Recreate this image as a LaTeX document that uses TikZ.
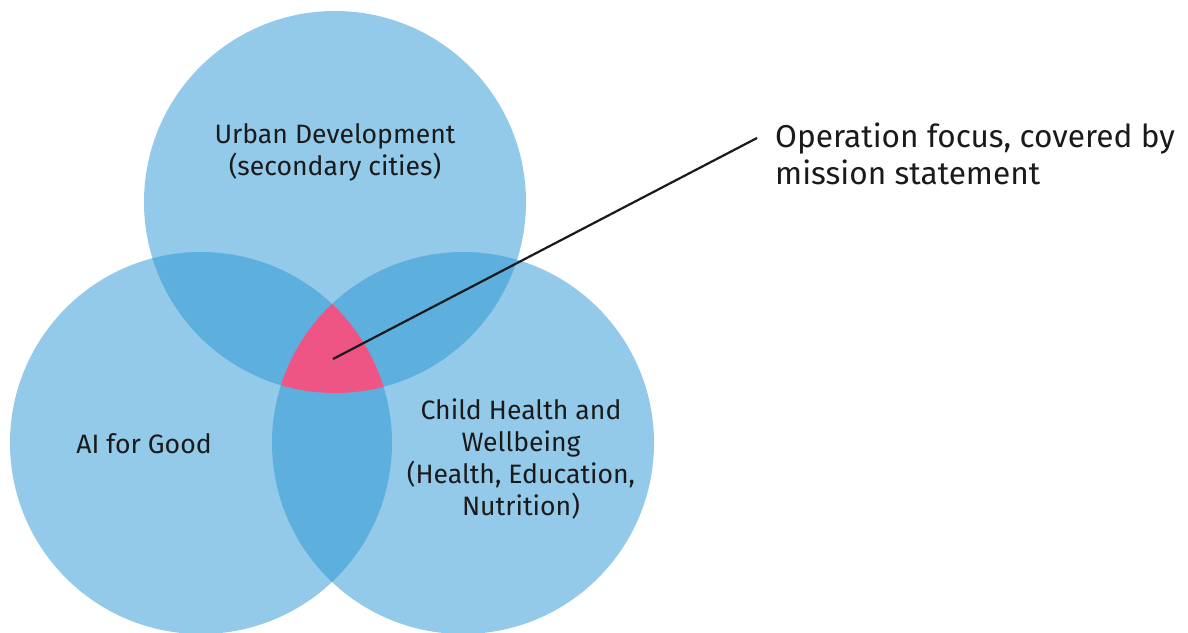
\documentclass[tikz,border=0pt]{standalone}
\usepackage{fontspec}
\setmainfont{Fira Sans}
\definecolor{lightblue}{HTML}{94CAE9}
\definecolor{midblue}{HTML}{5DAFDD}
\definecolor{focuspink}{HTML}{EF5584}
\definecolor{ink}{HTML}{1A1A1A}
\tikzset{
  label/.style={text=ink, inner sep=0pt, align=center, font=\fontsize{26.6}{32}\selectfont},
  note/.style={text=ink, inner sep=0pt, align=left, font=\fontsize{31.6}{37}\selectfont}
}
\begin{document}
\begin{tikzpicture}[x=1pt,y=-1pt]
\useasboundingbox (0,0) rectangle (1188,632);
\def\urbancirc{(335,202) circle [radius=191pt]}
\def\aicirc{(201,443) circle [radius=191pt]}
\def\childcirc{(463,443) circle [radius=191pt]}
% the three areas
\fill [lightblue] \urbancirc; \fill [lightblue] \aicirc; \fill [lightblue] \childcirc;
\begin{scope} \clip \urbancirc; \fill [midblue] \aicirc; \fill [midblue] \childcirc; \end{scope}
\begin{scope} \clip \aicirc; \fill [midblue] \childcirc; \clip \urbancirc; \fill [focuspink] \childcirc; \end{scope}
% labels
\node [label] (urban) at (335,152) {Urban Development\\(secondary cities)};
\node [label] (ai) at (144,444) {AI for Good};
\node [label] (child) at (521,459) {Child Health and\\Wellbeing\\(Health, Education,\\Nutrition)};
\node [note, anchor=west] (note) at (775,154) {Operation focus, covered by\\mission statement};
\coordinate (focus) at (333,359); \coordinate (notein) at (757,138);
\draw [ink, line width=2.2pt] (focus) -- (notein);
\end{tikzpicture}
\end{document}
